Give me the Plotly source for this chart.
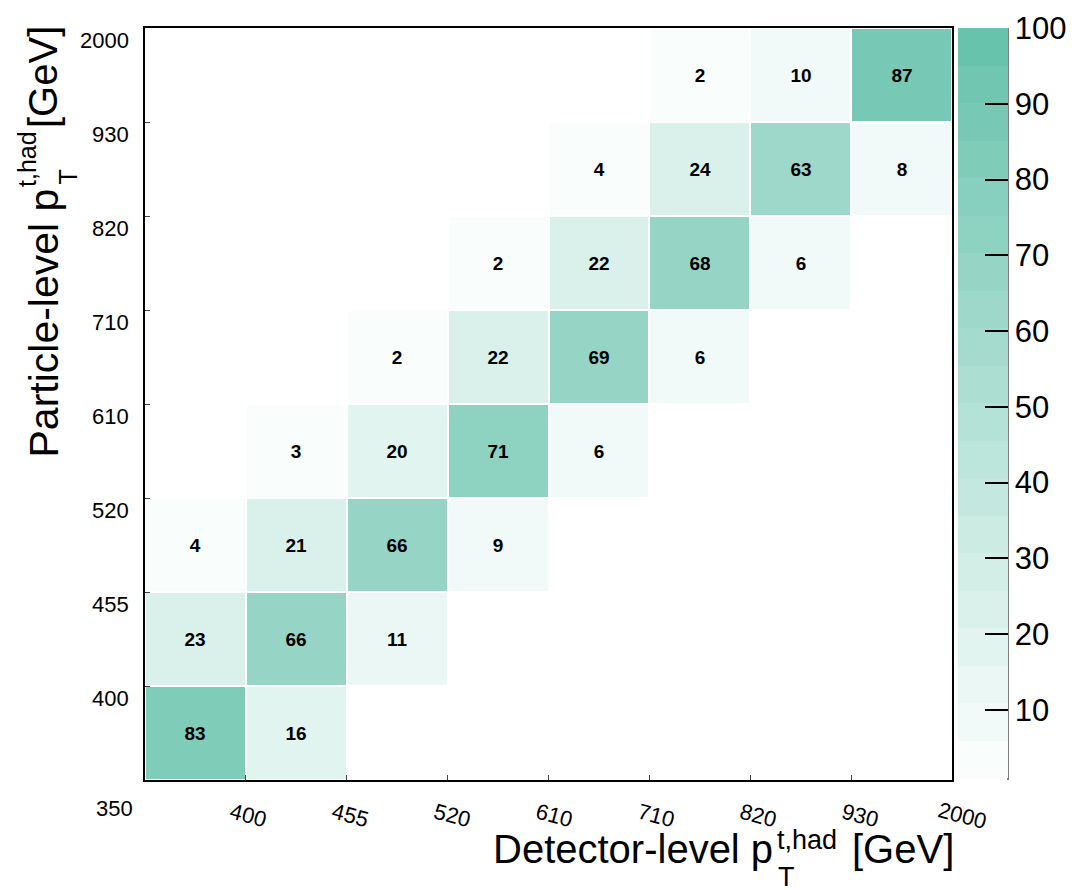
import plotly.graph_objects as go

# ---- data ----
x_edges = ["350", "400", "455", "520", "610", "710", "820", "930", "2000"]
y_edges = ["350", "400", "455", "520", "610", "710", "820", "930", "2000"]
# rows: particle-level bins (bottom to top), columns: detector-level bins (left to right)
row_350_400 = [83, 16, None, None, None, None, None, None]
row_400_455 = [23, 66, 11, None, None, None, None, None]
row_455_520 = [4, 21, 66, 9, None, None, None, None]
row_520_610 = [None, 3, 20, 71, 6, None, None, None]
row_610_710 = [None, None, 2, 22, 69, 6, None, None]
row_710_820 = [None, None, None, 2, 22, 68, 6, None]
row_820_930 = [None, None, None, None, 4, 24, 63, 8]
row_930_2000 = [None, None, None, None, None, 2, 10, 87]
cbar_ticks = [10, 20, 30, 40, 50, 60, 70, 80, 90, 100]

matrix = [row_350_400, row_400_455, row_455_520, row_520_610,
          row_610_710, row_710_820, row_820_930, row_930_2000]

# ---- geometry ----
W, H = 1075, 890
L, R, T, B = 145, 952, 28, 780
pw, ph = R - L, B - T


def px(x):
    return (x - L) / pw


def py(y):
    return (B - y) / ph


# ---- discrete colour scale (20 bands, 1..100) ----
nb = 20
lo = (249, 253, 252)
hi = (104, 195, 173)
cs = []
for i in range(nb):
    t = i / (nb - 1)
    c = tuple(round(lo[k] + (hi[k] - lo[k]) * t) for k in range(3))
    col = "rgb(%d,%d,%d)" % c
    cs.append([i / nb, col])
    cs.append([(i + 1) / nb, col])

nx = len(x_edges) - 1
ny = len(y_edges) - 1
text = [["<b>%d</b>" % v if v is not None else "" for v in row] for row in matrix]

font = "Liberation Sans, Arial, sans-serif"

fig = go.Figure()
fig.add_trace(go.Heatmap(
    z=matrix,
    x=list(range(nx)),
    y=list(range(ny)),
    text=text,
    texttemplate="%{text}",
    textfont=dict(family=font, size=19, color="black"),
    colorscale=cs,
    zmin=1, zmax=100,
    xgap=2, ygap=2,
    hoverongaps=False,
    colorbar=dict(
        x=px(958), xanchor="left", xpad=0,
        y=py(778), yanchor="bottom", ypad=0,
        lenmode="pixels", len=750,
        thickness=50, thicknessmode="pixels",
        outlinewidth=0,
        tickvals=cbar_ticks,
        ticks="inside", ticklen=23, tickwidth=1.5, tickcolor="black",
        tickfont=dict(family=font, size=31, color="black"),
    ),
))

fig.update_xaxes(
    range=[-0.5, nx - 0.5], showgrid=False, zeroline=False,
    showline=True, mirror=True, linecolor="black", linewidth=2,
    tickvals=[i - 0.5 for i in range(nx + 1)], ticks="inside", ticklen=5,
    tickcolor="#444", showticklabels=False,
)
fig.update_yaxes(
    range=[-0.5, ny - 0.5], showgrid=False, zeroline=False,
    showline=True, mirror=True, linecolor="black", linewidth=2,
    tickvals=[i - 0.5 for i in range(ny + 1)], ticks="inside", ticklen=5,
    tickcolor="#444", showticklabels=False,
)

ann = []
# x tick labels (rotated)
for i in range(1, nx + 1):
    ann.append(dict(x=i - 0.5, xref="x", y=0, yref="paper", yshift=-35, xshift=2 + i,
                    text=x_edges[i], showarrow=False, textangle=15,
                    xanchor="center", yanchor="middle",
                    font=dict(family=font, size=22, color="black")))
# y tick labels
for i in range(1, ny + 1):
    ann.append(dict(x=0, xref="paper", xshift=-14, y=i - 0.5, yref="y", yshift=-12,
                    text=y_edges[i], showarrow=False,
                    xanchor="right", yanchor="middle",
                    font=dict(family=font, size=22, color="black")))
ann.append(dict(x=0, xref="paper", xshift=-10, y=0, yref="paper", yshift=-28,
                text=y_edges[0], showarrow=False, xanchor="right", yanchor="middle",
                font=dict(family=font, size=22, color="black")))

# x title with stacked super/subscript
tf = 40
sf = 27
ann += [
    dict(x=px(775), xref="paper", y=py(849), yref="paper", text="Detector-level p",
         showarrow=False, xanchor="right", yanchor="middle",
         font=dict(family=font, size=tf, color="black")),
    dict(x=px(775), xref="paper", y=py(840), yref="paper", text="t,had",
         showarrow=False, xanchor="left", yanchor="middle",
         font=dict(family=font, size=sf, color="black")),
    dict(x=px(776), xref="paper", y=py(877), yref="paper", text="T",
         showarrow=False, xanchor="left", yanchor="middle",
         font=dict(family=font, size=sf, color="black")),
    dict(x=px(956), xref="paper", y=py(849), yref="paper", text="[GeV]",
         showarrow=False, xanchor="right", yanchor="middle",
         font=dict(family=font, size=tf, color="black")),
]
# y title with stacked super/subscript (rotated)
ann += [
    dict(x=px(43), xref="paper", y=py(187), yref="paper", text="Particle-level p",
         showarrow=False, xanchor="center", yanchor="top", textangle=-90,
         font=dict(family=font, size=41, color="black")),
    dict(x=px(27), xref="paper", y=py(189), yref="paper", text="t,had",
         showarrow=False, xanchor="center", yanchor="bottom", textangle=-90,
         font=dict(family=font, size=25, color="black")),
    dict(x=px(67), xref="paper", y=py(187), yref="paper", text="T",
         showarrow=False, xanchor="center", yanchor="bottom", textangle=-90,
         font=dict(family=font, size=25, color="black")),
    dict(x=px(43), xref="paper", y=py(24), yref="paper", text="[GeV]",
         showarrow=False, xanchor="center", yanchor="top", textangle=-90,
         font=dict(family=font, size=tf, color="black")),
]

fig.update_layout(
    width=W, height=H,
    margin=dict(l=L, r=W - R, t=T, b=H - B, pad=0, autoexpand=False),
    paper_bgcolor="white", plot_bgcolor="white",
    annotations=ann,
    shapes=[dict(type="line", xref="paper", yref="paper",
                 x0=px(1008), x1=px(1008), y0=py(780), y1=py(28),
                 line=dict(color="#555", width=1.5))],
    font=dict(family=font),
)

fig.write_html("out.html")
